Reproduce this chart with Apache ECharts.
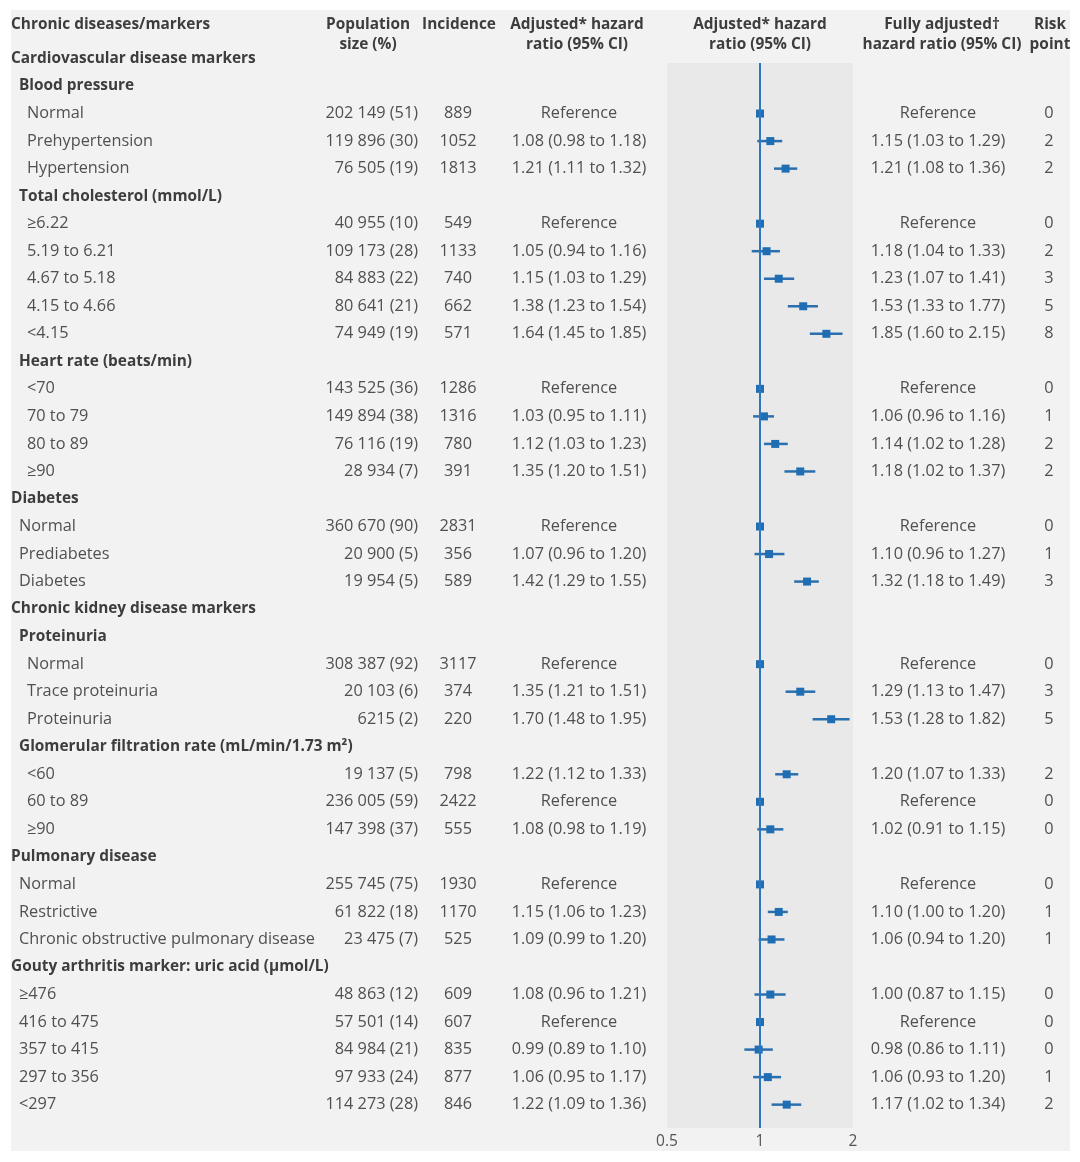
<!DOCTYPE html>
<html>
<head>
<meta charset="utf-8">
<script src="https://cdn.jsdelivr.net/npm/echarts@6/dist/echarts.min.js"></script>
<style>html,body{margin:0;padding:0;background:#fff}#chart{width:1080px;height:1162px}</style>
</head>
<body>
<div id="chart"></div>
<script>
// ---------- data ----------
const labels = [
  'Cardiovascular disease markers','Blood pressure','Normal','Prehypertension','Hypertension',
  'Total cholesterol (mmol/L)','≥6.22','5.19 to 6.21','4.67 to 5.18','4.15 to 4.66','<4.15',
  'Heart rate (beats/min)','<70','70 to 79','80 to 89','≥90',
  'Diabetes','Normal','Prediabetes','Diabetes',
  'Chronic kidney disease markers','Proteinuria','Normal','Trace proteinuria','Proteinuria',
  'Glomerular filtration rate (mL/min/1.73 m²)','<60','60 to 89','≥90',
  'Pulmonary disease','Normal','Restrictive','Chronic obstructive pulmonary disease',
  'Gouty arthritis marker: uric acid (µmol/L)','≥476','416 to 475','357 to 415','297 to 356','<297'
];
const levels = [0,1,2,2,2, 1,2,2,2,2,2, 1,2,2,2,2, 0,1,1,1, 0,1,2,2,2, 1,2,2,2, 0,1,1,1, 0,1,1,1,1,1];
const isHeading = [1,1,0,0,0, 1,0,0,0,0,0, 1,0,0,0,0, 1,0,0,0, 1,1,0,0,0, 1,0,0,0, 1,0,0,0, 1,0,0,0,0,0];
const population = ['','','202 149 (51)','119 896 (30)','76 505 (19)',
  '','40 955 (10)','109 173 (28)','84 883 (22)','80 641 (21)','74 949 (19)',
  '','143 525 (36)','149 894 (38)','76 116 (19)','28 934 (7)',
  '','360 670 (90)','20 900 (5)','19 954 (5)',
  '','','308 387 (92)','20 103 (6)','6215 (2)',
  '','19 137 (5)','236 005 (59)','147 398 (37)',
  '','255 745 (75)','61 822 (18)','23 475 (7)',
  '','48 863 (12)','57 501 (14)','84 984 (21)','97 933 (24)','114 273 (28)'];
const incidence = ['','','889','1052','1813',
  '','549','1133','740','662','571',
  '','1286','1316','780','391',
  '','2831','356','589',
  '','','3117','374','220',
  '','798','2422','555',
  '','1930','1170','525',
  '','609','607','835','877','846'];
const hrText = ['','','Reference','1.08 (0.98 to 1.18)','1.21 (1.11 to 1.32)',
  '','Reference','1.05 (0.94 to 1.16)','1.15 (1.03 to 1.29)','1.38 (1.23 to 1.54)','1.64 (1.45 to 1.85)',
  '','Reference','1.03 (0.95 to 1.11)','1.12 (1.03 to 1.23)','1.35 (1.20 to 1.51)',
  '','Reference','1.07 (0.96 to 1.20)','1.42 (1.29 to 1.55)',
  '','','Reference','1.35 (1.21 to 1.51)','1.70 (1.48 to 1.95)',
  '','1.22 (1.12 to 1.33)','Reference','1.08 (0.98 to 1.19)',
  '','Reference','1.15 (1.06 to 1.23)','1.09 (0.99 to 1.20)',
  '','1.08 (0.96 to 1.21)','Reference','0.99 (0.89 to 1.10)','1.06 (0.95 to 1.17)','1.22 (1.09 to 1.36)'];
const fullText = ['','','Reference','1.15 (1.03 to 1.29)','1.21 (1.08 to 1.36)',
  '','Reference','1.18 (1.04 to 1.33)','1.23 (1.07 to 1.41)','1.53 (1.33 to 1.77)','1.85 (1.60 to 2.15)',
  '','Reference','1.06 (0.96 to 1.16)','1.14 (1.02 to 1.28)','1.18 (1.02 to 1.37)',
  '','Reference','1.10 (0.96 to 1.27)','1.32 (1.18 to 1.49)',
  '','','Reference','1.29 (1.13 to 1.47)','1.53 (1.28 to 1.82)',
  '','1.20 (1.07 to 1.33)','Reference','1.02 (0.91 to 1.15)',
  '','Reference','1.10 (1.00 to 1.20)','1.06 (0.94 to 1.20)',
  '','1.00 (0.87 to 1.15)','Reference','0.98 (0.86 to 1.11)','1.06 (0.93 to 1.20)','1.17 (1.02 to 1.34)'];
const riskPoint = ['','','0','2','2', '','0','2','3','5','8', '','0','1','2','2', '','0','1','3',
  '','','0','3','5', '','2','0','0', '','0','1','1', '','0','0','0','1','2'];
// plotted adjusted* hazard ratios (null = heading row)
const hr     = [null,null,1,1.08,1.21, null,1,1.05,1.15,1.38,1.64, null,1,1.03,1.12,1.35, null,1,1.07,1.42,
  null,null,1,1.35,1.70, null,1.22,1,1.08, null,1,1.15,1.09, null,1.08,1,0.99,1.06,1.22];
const hrLow  = [null,null,null,0.98,1.11, null,null,0.94,1.03,1.23,1.45, null,null,0.95,1.03,1.20, null,null,0.96,1.29,
  null,null,null,1.21,1.48, null,1.12,null,0.98, null,null,1.06,0.99, null,0.96,null,0.89,0.95,1.09];
const hrHigh = [null,null,null,1.18,1.32, null,null,1.16,1.29,1.54,1.85, null,null,1.11,1.23,1.51, null,null,1.20,1.55,
  null,null,null,1.51,1.95, null,1.33,null,1.19, null,null,1.23,1.20, null,1.21,null,1.10,1.17,1.36];
const xTicks = [0.5, 1, 2];
const headers = [
  {text:'Chronic diseases/markers', x:11, align:'left'},
  {text:'Population\nsize (%)', x:368, align:'center'},
  {text:'Incidence', x:459, align:'center'},
  {text:'Adjusted* hazard\nratio (95% CI)', x:577, align:'center'},
  {text:'Adjusted* hazard\nratio (95% CI)', x:760, align:'center'},
  {text:'Fully adjusted†\nhazard ratio (95% CI)', x:942, align:'center'},
  {text:'Risk\npoint', x:1050, align:'center'}
];

// ---------- chart ----------
const FONT = '"Open Sans", sans-serif';
const TXT = '#505050';
const HEAD = '#3d3d3d';
const BLUE = '#1f6db3';
const REG = 16.3, BOLD = 15.4;
const N = labels.length;
const rowH = 27.53;
const firstRowY = 58.5;
const plotL = 667, plotR = 853;
const gridTop = firstRowY - rowH / 2;
const idx = labels.map((_, i) => i);

function textAxis(data, pos, anchorX, align, fmt) {
  const offset = pos === 'left' ? plotL - anchorX : anchorX - plotR;
  return {
    type: 'category', gridIndex: 1, position: pos, offset: offset, inverse: true, data: data,
    axisLine: {show:false}, axisTick: {show:false}, splitLine: {show:false},
    axisLabel: {
      show: true, interval: 0, margin: 0, align: align, color: TXT, fontSize: REG, fontFamily: FONT,
      formatter: fmt || (v => v),
      rich: { b: {fontWeight: 'bold', color: HEAD, fontSize: BOLD, fontFamily: FONT} }
    }
  };
}
function levelData(k) { return labels.map((l, i) => levels[i] === k ? l : ''); }
const labelFmt = (v, i) => (v === '' ? '' : (isHeading[i] ? '{b|' + v + '}' : v));

const chart = echarts.init(document.getElementById('chart'), null, {renderer: 'canvas'});
const option = {
  animation: false,
  graphic: {
    elements: [
      {type: 'rect', z: -100, shape: {x: 11, y: 10, width: 1059, height: 1141}, style: {fill: '#f2f2f2'}},
      ...headers.map(h => ({
        type: 'text', z: 10, x: h.x, y: 15,
        style: {text: h.text, fill: HEAD, font: 'bold ' + BOLD + 'px ' + FONT, align: h.align, verticalAlign: 'top', lineHeight: 20}
      }))
    ]
  },
  grid: [
    {left: plotL, width: plotR - plotL, top: 63, height: 1065, show: true, backgroundColor: '#e9e9e9', borderWidth: 0, containLabel: false},
    {left: plotL, width: plotR - plotL, top: gridTop, height: rowH * N, show: false, containLabel: false}
  ],
  xAxis: [
    {type: 'log', logBase: 2, gridIndex: 0, min: 0.5, max: 2,
     axisLine: {show: false}, axisTick: {show: false}, splitLine: {show: false},
     axisLabel: {show: true, margin: 6, color: '#555', fontSize: 15.5, fontFamily: FONT,
       formatter: v => { const t = xTicks.find(x => Math.abs(x - v) < 1e-6); return t === undefined ? '' : String(t); }}},
    {type: 'log', logBase: 2, gridIndex: 1, min: 0.5, max: 2, show: false}
  ],
  yAxis: [
    {type: 'value', gridIndex: 0, min: 0, max: 1, show: false},
    {type: 'category', gridIndex: 1, inverse: true, data: idx.map(String), show: false},
    textAxis(levelData(0), 'left', 11, 'left', labelFmt),
    textAxis(levelData(1), 'left', 19, 'left', labelFmt),
    textAxis(levelData(2), 'left', 27, 'left', labelFmt),
    textAxis(population, 'left', 418, 'right'),
    textAxis(incidence, 'left', 458, 'center'),
    textAxis(hrText, 'left', 579, 'center'),
    textAxis(fullText, 'right', 938, 'center'),
    textAxis(riskPoint, 'right', 1049, 'center')
  ],
  series: [
    {
      type: 'scatter', xAxisIndex: 0, yAxisIndex: 0, data: [], silent: true,
      markLine: {symbol: 'none', silent: true, label: {show: false},
        lineStyle: {color: '#2b78c2', width: 2, type: 'solid'}, data: [{xAxis: 1}]}
    },
    {
      type: 'custom', xAxisIndex: 1, yAxisIndex: 1, silent: true, z: 3,
      data: idx.filter(i => hrLow[i] != null).map(i => [hrLow[i], hrHigh[i], i]),
      encode: {x: [0, 1], y: 2},
      renderItem: (params, api) => {
        const p1 = api.coord([api.value(0), api.value(2)]);
        const p2 = api.coord([api.value(1), api.value(2)]);
        return {type: 'line', shape: {x1: p1[0], y1: p1[1], x2: p2[0], y2: p2[1]},
          style: {stroke: '#2a6fae', lineWidth: 2.5}};
      }
    },
    {
      type: 'scatter', xAxisIndex: 1, yAxisIndex: 1, silent: true, z: 4,
      symbol: 'rect', symbolSize: 8, itemStyle: {color: BLUE, opacity: 1},
      data: idx.filter(i => hr[i] != null).map(i => [hr[i], i])
    }
  ]
};
chart.setOption(option);
</script>
</body>
</html>
